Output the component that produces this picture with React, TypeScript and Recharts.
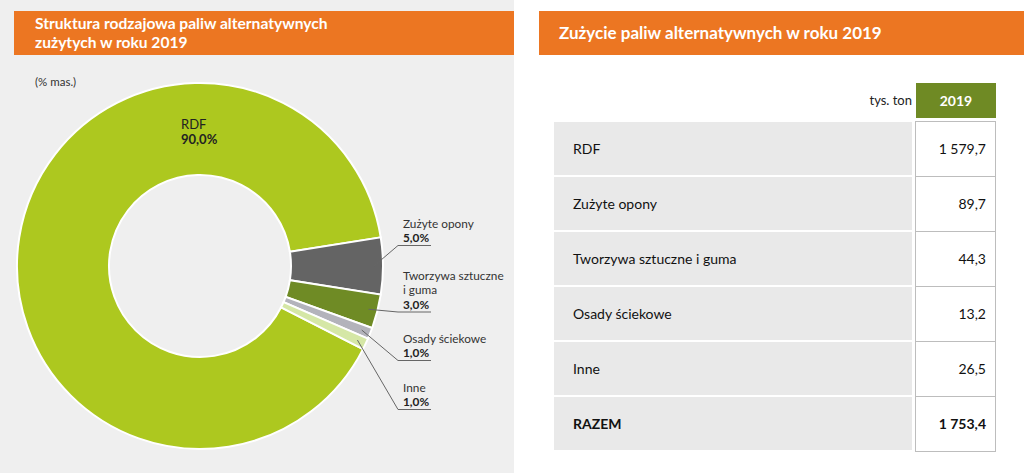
import React from 'react';
import { PieChart, Pie, Cell } from 'recharts';

const categories = ['RDF', 'Zużyte opony', 'Tworzywa sztuczne i guma', 'Osady ściekowe', 'Inne'];
const pieLabelLines = [['RDF'], ['Zużyte opony'], ['Tworzywa sztuczne', 'i guma'], ['Osady ściekowe'], ['Inne']];
const shares = [90.0, 5.0, 3.0, 1.0, 1.0];
const tonnes = [1579.7, 89.7, 44.3, 13.2, 26.5];
const totalTonnes = 1753.4;
const totalLabel = 'RAZEM';
const yearLabel = '2019';
const unitLabel = 'tys. ton';
const leftTitle = ['Struktura rodzajowa paliw alternatywnych', 'zużytych w roku 2019'];
const rightTitle = 'Zużycie paliw alternatywnych w roku 2019';
const unitNote = '(% mas.)';

const COLORS = ['#adc81f', '#646464', '#6f8b25', '#b3b3bb', '#d5e7a6'];
// label layout (vertical offset of first text line from pie centre)
const LABEL_DY = [0, -43, 9, 72, 121];

const pieData = categories.map((c, i) => ({ name: c, value: shares[i] }));

const fmtPct = (v: number) => v.toFixed(1).replace('.', ',') + '%';
const fmtNum = (v: number) => {
  const [int, dec] = v.toFixed(1).split('.');
  const withSp = int.replace(/\B(?=(\d{3})+(?!\d))/g, ' ');
  return withSp + ',' + dec;
};

const FONT = 'Lato, "Open Sans", sans-serif';

const renderLabel = (props: any) => {
  const { cx, cy, midAngle, innerRadius, outerRadius, index } = props;
  const RAD = Math.PI / 180;
  if (index === 0) {
    const r = (innerRadius + outerRadius) / 2;
    const x = cx - 19;
    const y = cy - r;
    return (
      <g>
        <text x={x} y={y - 5} fontSize={13} fill="#222" fontFamily={FONT} dominantBaseline="central">
          {pieLabelLines[0][0]}
        </text>
        <text x={x} y={y + 10} fontSize={13} fontWeight="bold" fill="#222" fontFamily={FONT} dominantBaseline="central">
          {fmtPct(shares[0])}
        </text>
      </g>
    );
  }
  const lines = pieLabelLines[index];
  const lh = 14.5;
  const y0 = cy + LABEL_DY[index];
  const tx = cx + 203;
  const valY = y0 + lines.length * lh;
  const ulY = valY + 8;
  const sr = outerRadius - 9;
  const sx = cx + sr * Math.cos(-midAngle * RAD);
  const sy = cy + sr * Math.sin(-midAngle * RAD);
  return (
    <g>
      <polyline
        points={`${sx},${sy} ${cx + 198},${ulY} ${cx + 231},${ulY}`}
        fill="none"
        stroke="#666"
        strokeWidth={1}
      />
      {lines.map((l, i) => (
        <text key={i} x={tx} y={y0 + i * lh} fontSize={11.8} fill="#333" fontFamily={FONT} dominantBaseline="central">
          {l}
        </text>
      ))}
      <text x={tx} y={valY} fontSize={11.8} fontWeight="bold" fill="#222" fontFamily={FONT} dominantBaseline="central">
        {fmtPct(shares[index])}
      </text>
    </g>
  );
};

const ROW_TOP = 122;
const ROW_PITCH = 55;

export default function App() {
  const rows = categories.map((c, i) => ({ label: c, value: fmtNum(tonnes[i]), bold: false }));
  rows.push({ label: totalLabel, value: fmtNum(totalTonnes), bold: true });

  return (
    <div
      style={{
        position: 'absolute',
        left: 0,
        top: 0,
        width: 1024,
        height: 473,
        background: '#ffffff',
        fontFamily: FONT,
        overflow: 'hidden',
      }}
    >
      {/* left panel */}
      <div style={{ position: 'absolute', left: 0, top: 0, width: 514, height: 473, background: '#efefef' }} />
      <div
        style={{
          position: 'absolute',
          left: 14,
          top: 11,
          width: 500,
          height: 44,
          background: '#ec7622',
          color: '#fff',
          fontWeight: 'bold',
          fontSize: 15.6,
          lineHeight: '19px',
          paddingLeft: 21,
          paddingTop: 3,
          boxSizing: 'border-box',
        }}
      >
        <div>{leftTitle[0]}</div>
        <div>{leftTitle[1]}</div>
      </div>
      <div style={{ position: 'absolute', left: 35, top: 75, fontSize: 11.5, color: '#333' }}>{unitNote}</div>
      <div style={{ position: 'absolute', left: 0, top: 0 }}>
        <PieChart width={514} height={473} margin={{ top: 0, right: 0, bottom: 0, left: 0 }}>
          <Pie
            data={pieData}
            dataKey="value"
            nameKey="name"
            cx={200}
            cy={266}
            innerRadius={91}
            outerRadius={183}
            startAngle={333}
            endAngle={-27}
            stroke="#ffffff"
            strokeWidth={2}
            label={renderLabel}
            labelLine={false}
            isAnimationActive={false}
          >
            {pieData.map((d, i) => (
              <Cell key={d.name} fill={COLORS[i]} />
            ))}
          </Pie>
        </PieChart>
      </div>

      {/* right panel */}
      <div
        style={{
          position: 'absolute',
          left: 539,
          top: 11,
          width: 485,
          height: 44,
          background: '#ec7622',
          color: '#fff',
          fontWeight: 'bold',
          fontSize: 17,
          lineHeight: '44px',
          paddingLeft: 20,
          boxSizing: 'border-box',
        }}
      >
        {rightTitle}
      </div>
      <div
        style={{
          position: 'absolute',
          left: 800,
          width: 112,
          top: 83,
          height: 34,
          lineHeight: '34px',
          textAlign: 'right',
          fontSize: 13,
          color: '#222',
        }}
      >
        {unitLabel}
      </div>
      <div
        style={{
          position: 'absolute',
          left: 916,
          top: 83,
          width: 80,
          height: 35,
          background: '#6f8a24',
          color: '#fff',
          fontWeight: 'bold',
          fontSize: 14,
          lineHeight: '35px',
          textAlign: 'center',
        }}
      >
        {yearLabel}
      </div>
      {rows.map((r, i) => (
        <React.Fragment key={r.label}>
          <div
            style={{
              position: 'absolute',
              left: 554,
              top: ROW_TOP + i * ROW_PITCH,
              width: 358,
              height: ROW_PITCH - 2,
              background: '#e9e9e9',
              fontSize: 14,
              fontWeight: r.bold ? 'bold' : 'normal',
              color: '#111',
              lineHeight: `${ROW_PITCH - 2}px`,
              paddingLeft: 19,
              boxSizing: 'border-box',
            }}
          >
            {r.label}
          </div>
          <div
            style={{
              position: 'absolute',
              left: 915,
              top: ROW_TOP + i * ROW_PITCH - 1,
              width: 81,
              height: ROW_PITCH + 1,
              border: '1px solid #bdbdbd',
              background: '#fff',
              fontSize: 14,
              fontWeight: r.bold ? 'bold' : 'normal',
              color: '#111',
              lineHeight: `${ROW_PITCH - 1}px`,
              textAlign: 'right',
              paddingRight: 9,
              boxSizing: 'border-box',
            }}
          >
            {r.value}
          </div>
        </React.Fragment>
      ))}
    </div>
  );
}
